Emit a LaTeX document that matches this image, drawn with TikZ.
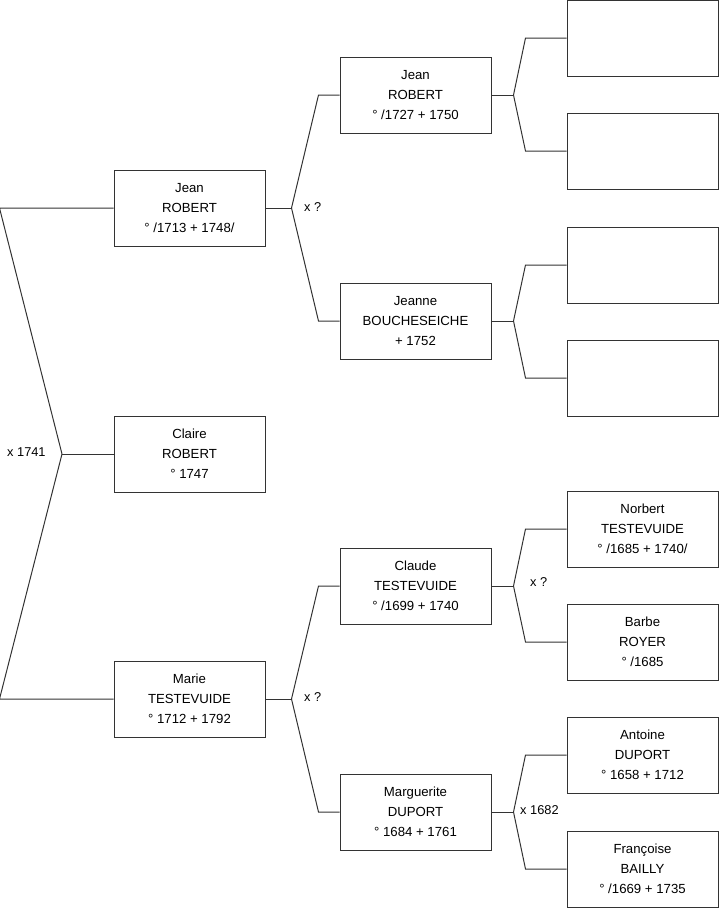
\documentclass[tikz,border=0pt]{standalone}
\usepackage{fontspec}
\setmainfont{Liberation Sans}
\usetikzlibrary{positioning,calc}

\tikzset{
  person/.style={draw=black!80, line width=1pt, minimum width=151pt, minimum height=76pt,
    inner sep=0pt, align=center, font=\fontsize{13.2}{20}\selectfont},
  link/.style={draw=black!80, line width=1pt},
  union/.style={font=\fontsize{12.8}{15}\selectfont, inner sep=0pt}
}

\begin{document}
\begin{tikzpicture}[x=1pt, y=-1pt]
\useasboundingbox (0,0) rectangle (719,908);

% first column
\node[person] (jeanr) at (189.5,208) {Jean\\ROBERT\\° /1713 + 1748/};
\node[person] (claire) at (189.5,454) {Claire\\ROBERT\\° 1747};
\node[person] (marie) at (189.5,699) {Marie\\TESTEVUIDE\\° 1712 + 1792};

% parents
\node[person] (jeanrp) at (415.5,95) {Jean\\ROBERT\\° /1727 + 1750};
\node[person] (jeanne) at (415.5,321) {Jeanne\\BOUCHESEICHE\\+ 1752};
\node[person] (claude) at (415.5,586) {Claude\\TESTEVUIDE\\° /1699 + 1740};
\node[person] (marguerite) at (415.5,812) {Marguerite\\DUPORT\\° 1684 + 1761};

% grand-parents
\node[person] (e1) at (642.5,38) {};
\node[person] (e2) at (642.5,151) {};
\node[person] (e3) at (642.5,265) {};
\node[person] (e4) at (642.5,378) {};
\node[person] (norbert) at (642.5,529) {Norbert\\TESTEVUIDE\\° /1685 + 1740/};
\node[person] (barbe) at (642.5,642) {Barbe\\ROYER\\° /1685};
\node[person] (antoine) at (642.5,755) {Antoine\\DUPORT\\° 1658 + 1712};
\node[person] (francoise) at (642.5,869) {Françoise\\BAILLY\\° /1669 + 1735};

% couple of the first column
\coordinate (v0) at (62,454);
\draw[link] (claire.west) -- (v0);
\draw[link] (v0) -- ([xshift=-114pt]jeanr.west) -- (jeanr.west);
\draw[link] (v0) -- ([xshift=-114pt]marie.west) -- (marie.west);

% couples of the parents
\foreach \p/\a/\b in {jeanr/jeanrp/jeanne, marie/claude/marguerite} {
  \draw[link] (\p.east) -- ++(26,0) coordinate (v\p);
  \draw[link] (v\p) -- ([xshift=-21pt]\a.west) -- (\a.west);
  \draw[link] (v\p) -- ([xshift=-21pt]\b.west) -- (\b.west);
}

% couples of the grand-parents
\foreach \p/\a/\b in {jeanrp/e1/e2, jeanne/e3/e4, claude/norbert/barbe, marguerite/antoine/francoise} {
  \draw[link] (\p.east) -- ++(22,0) coordinate (v\p);
  \draw[link] (v\p) -- ([xshift=-41pt]\a.west) -- (\a.west);
  \draw[link] (v\p) -- ([xshift=-41pt]\b.west) -- (\b.west);
}

% marriages
\node[union, anchor=west] (m0) at (7,452) {x 1741};
\node[union, anchor=west] (m1) at (304,207) {x ?};
\node[union, anchor=west] (m2) at (304,697) {x ?};
\node[union, anchor=west] (m3) at (530,582) {x ?};
\node[union, anchor=west] (m4) at (520,810) {x 1682};
\end{tikzpicture}
\end{document}
